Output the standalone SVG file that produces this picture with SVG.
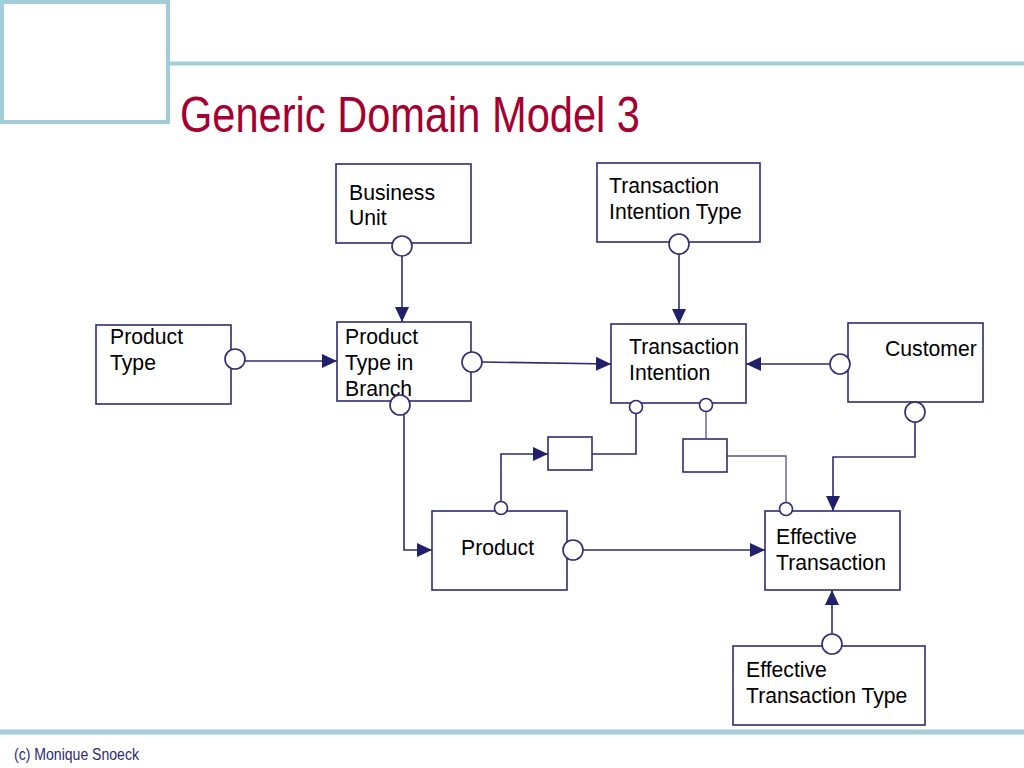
<svg xmlns="http://www.w3.org/2000/svg" width="1024" height="768" viewBox="0 0 1024 768">
<defs>
<marker id="arr" markerUnits="userSpaceOnUse" markerWidth="16" markerHeight="14" refX="15" refY="7" orient="auto">
<path d="M0,0 L15,7 L0,14 Z" fill="#23206B"/>
</marker>
<style>
.box{fill:#fff;stroke:#2E2C73;stroke-width:1.6}
.c{fill:#fff;stroke:#2E2C73;stroke-width:1.6}
.lbl{font-family:"Liberation Sans",Arial,sans-serif;font-size:21.2px;fill:#000}
.ln{fill:none;stroke:#2E2C73;stroke-width:1.6}
.thin{fill:none;stroke:#55537F;stroke-width:1.3}
.deco{fill:none;stroke:#A2CCD7}
</style>
</defs>
<rect width="1024" height="768" fill="#fff"/>
<g id="header">
<rect class="deco" x="2" y="2" width="166" height="120" stroke-width="4"/>
<line class="deco" x1="168" y1="63.5" x2="1024" y2="63.5" stroke-width="4"/>
<line class="deco" x1="0" y1="732" x2="1024" y2="732" stroke-width="5"/>
<text x="180" y="132" font-family="'Liberation Sans Narrow','Liberation Sans',Arial,sans-serif" font-size="50" fill="#A5002F" textLength="460" lengthAdjust="spacingAndGlyphs">Generic Domain Model 3</text>
<text x="14" y="760" font-family="'Liberation Sans Narrow','Liberation Sans',Arial,sans-serif" font-size="16" fill="#2E2C73" textLength="125" lengthAdjust="spacingAndGlyphs">(c) Monique Snoeck</text>
</g>
<g id="connectors">
<line class="ln" x1="402" y1="256" x2="402" y2="322" marker-end="url(#arr)"/>
<line class="ln" x1="679" y1="254" x2="679" y2="324" marker-end="url(#arr)"/>
<line class="ln" x1="245" y1="361" x2="337" y2="361" marker-end="url(#arr)"/>
<line class="ln" x1="482" y1="362" x2="611" y2="364" marker-end="url(#arr)"/>
<line class="ln" x1="830" y1="364" x2="746" y2="364" marker-end="url(#arr)"/>
<polyline class="ln" points="404,415 404,550 432,550" marker-end="url(#arr)"/>
<polyline class="ln" points="501,501 501,454 548,454" marker-end="url(#arr)"/>
<polyline class="ln" points="592,454 636,454 636,414"/>
<line class="thin" x1="706" y1="411" x2="706" y2="439"/>
<polyline class="thin" points="727,456 786,456 786,503"/>
<polyline class="ln" points="915,422 915,457 833,457 833,511" marker-end="url(#arr)"/>
<line class="ln" x1="583" y1="550" x2="765" y2="550" marker-end="url(#arr)"/>
<line class="ln" x1="832" y1="634" x2="832" y2="590" marker-end="url(#arr)"/>
</g>
<g id="business-unit">
<rect class="box" x="336" y="164" width="135" height="79"/>
<text class="lbl" x="349" y="200">Business</text>
<text class="lbl" x="349" y="225">Unit</text>
<circle class="c" cx="402" cy="246" r="10"/>
</g>
<g id="transaction-intention-type">
<rect class="box" x="597" y="163" width="163" height="79"/>
<text class="lbl" x="609" y="193">Transaction</text>
<text class="lbl" x="609" y="219">Intention Type</text>
<circle class="c" cx="679" cy="244" r="10"/>
</g>
<g id="product-type">
<rect class="box" x="96" y="325" width="135" height="79"/>
<text class="lbl" x="110" y="344">Product</text>
<text class="lbl" x="110" y="370">Type</text>
<circle class="c" cx="235" cy="359" r="10"/>
</g>
<g id="product-type-in-branch">
<rect class="box" x="337" y="322" width="134" height="79"/>
<text class="lbl" x="345" y="344">Product</text>
<text class="lbl" x="345" y="370">Type in</text>
<text class="lbl" x="345" y="396">Branch</text>
<circle class="c" cx="472" cy="362" r="10"/>
<circle class="c" cx="400" cy="405" r="10"/>
</g>
<g id="transaction-intention">
<rect class="box" x="611" y="324" width="135" height="79"/>
<text class="lbl" x="629" y="354">Transaction</text>
<text class="lbl" x="629" y="380">Intention</text>
<circle class="c" cx="636" cy="407" r="6.5"/>
<circle class="c" cx="706" cy="405" r="6.5"/>
</g>
<g id="customer">
<rect class="box" x="848" y="323" width="135" height="79"/>
<text class="lbl" x="885" y="356">Customer</text>
<circle class="c" cx="840" cy="364" r="10"/>
<circle class="c" cx="915" cy="412" r="10"/>
</g>
<g id="link-box-1">
<rect class="box" x="548" y="437" width="44" height="33"/>
</g>
<g id="link-box-2">
<rect class="box" x="683" y="439" width="44" height="33"/>
</g>
<g id="product">
<rect class="box" x="432" y="511" width="135" height="79"/>
<text class="lbl" x="461" y="555">Product</text>
<circle class="c" cx="573" cy="550" r="10"/>
<circle class="c" cx="501" cy="508" r="6.5"/>
</g>
<g id="effective-transaction">
<rect class="box" x="765" y="511" width="135" height="79"/>
<text class="lbl" x="776" y="544">Effective</text>
<text class="lbl" x="776" y="570">Transaction</text>
<circle class="c" cx="786" cy="509" r="6.5"/>
</g>
<g id="effective-transaction-type">
<rect class="box" x="733" y="646" width="192" height="79"/>
<text class="lbl" x="746" y="677">Effective</text>
<text class="lbl" x="746" y="703">Transaction Type</text>
<circle class="c" cx="832" cy="644" r="10"/>
</g>
</svg>
